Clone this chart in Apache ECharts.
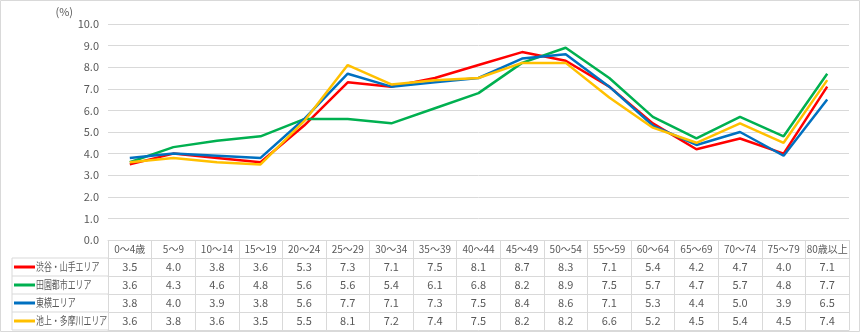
<!DOCTYPE html>
<html><head><meta charset="utf-8">
<script src="https://cdn.jsdelivr.net/npm/echarts@6/dist/echarts.min.js"></script>
<style>html,body{margin:0;padding:0;background:#fff}#c{width:860px;height:332px}</style>
</head><body><div id="c"></div>
<script>
var categories = ['0～4歳','5～9','10～14','15～19','20～24','25～29','30～34','35～39','40～44','45～49','50～54','55～59','60～64','65～69','70～74','75～79','80歳以上'];
var seriesNames = ['渋谷・山手エリア','田園都市エリア','東横エリア','池上・多摩川エリア'];
var shibuya = [3.5,4.0,3.8,3.6,5.3,7.3,7.1,7.5,8.1,8.7,8.3,7.1,5.4,4.2,4.7,4.0,7.1];
var denen   = [3.6,4.3,4.6,4.8,5.6,5.6,5.4,6.1,6.8,8.2,8.9,7.5,5.7,4.7,5.7,4.8,7.7];
var toyoko  = [3.8,4.0,3.9,3.8,5.6,7.7,7.1,7.3,7.5,8.4,8.6,7.1,5.3,4.4,5.0,3.9,6.5];
var ikegami = [3.6,3.8,3.6,3.5,5.5,8.1,7.2,7.4,7.5,8.2,8.2,6.6,5.2,4.5,5.4,4.5,7.4];
var yTicks = [0,1,2,3,4,5,6,7,8,9,10];
var colors = ['#FF0000','#00B050','#0070C0','#FFC000'];
var allValues = [shibuya, denen, toyoko, ikegami];

var FONT = '"Noto Sans CJK JP", "Noto Sans", sans-serif';
var TXT = '#595959';
var BORDER = '#d9d9d9';
var GL = 108, GR = 11, GT = 24, GB = 92, ROW = 18, W = 860, H = 332;
var gridBottomY = H - GB;

var xAxes = [{
  type: 'category', data: categories, gridIndex: 0, position: 'bottom', offset: 0,
  boundaryGap: true,
  axisLine: {show: true, lineStyle: {color: BORDER, width: 1}},
  axisTick: {show: true, interval: 0, length: ROW, lineStyle: {color: BORDER}},
  axisLabel: {interval: 0, margin: ROW/2, verticalAlign: 'middle', color: TXT, fontSize: 10, fontFamily: FONT},
  splitLine: {show: false}
}];
allValues.forEach(function(vals, k){
  xAxes.push({
    type: 'category', data: categories, gridIndex: 0, position: 'bottom', offset: ROW*(k+1),
    boundaryGap: true,
    axisLine: {show: true, lineStyle: {color: BORDER, width: 1}},
    axisTick: {show: true, interval: 0, length: ROW, lineStyle: {color: BORDER}},
    axisLabel: {interval: 0, margin: ROW/2, verticalAlign: 'middle', color: TXT, fontSize: 11, fontFamily: FONT,
      formatter: (function(v){ return function(val, idx){ return v[idx].toFixed(1); }; })(vals)},
    splitLine: {show: false}
  });
});
xAxes.push({
  type: 'category', data: categories, gridIndex: 0, position: 'bottom', offset: ROW*5,
  boundaryGap: true,
  axisLine: {show: true, lineStyle: {color: BORDER, width: 1}},
  axisTick: {show: false}, axisLabel: {show: false}, splitLine: {show: false}
});

var graphics = [];
for (var r = 1; r <= 5; r++) {
  graphics.push({type: 'line', shape: {x1: 12, y1: gridBottomY + ROW*r, x2: GL, y2: gridBottomY + ROW*r}, style: {stroke: BORDER, lineWidth: 1}});
}
graphics.push({type: 'line', shape: {x1: 12, y1: gridBottomY + ROW, x2: 12, y2: gridBottomY + ROW*5}, style: {stroke: BORDER, lineWidth: 1}});
graphics.push({type: 'rect', shape: {x: 0.5, y: 0.5, width: W-1, height: H-1}, style: {fill: 'none', stroke: BORDER, lineWidth: 1}});
seriesNames.forEach(function(name, i){
  var cy = gridBottomY + ROW*(i+1) + ROW/2;
  graphics.push({type: 'line', shape: {x1: 14, y1: cy, x2: 35, y2: cy}, style: {stroke: colors[i], lineWidth: 3}});
  graphics.push({type: 'text', x: 36, y: cy, scaleX: 0.72,
    style: {text: name, x: 0, y: 0, fill: TXT, fontSize: 11, fontFamily: FONT, verticalAlign: 'middle', align: 'left'}});
});

var chart = echarts.init(document.getElementById('c'), null, {renderer: 'canvas'});
chart.setOption({
  animation: false,
  color: colors,
  textStyle: {fontFamily: FONT},
  grid: {left: GL, right: GR, top: GT, bottom: GB, containLabel: false},
  xAxis: xAxes,
  yAxis: {
    type: 'value', min: yTicks[0], max: yTicks[yTicks.length-1], interval: 1,
    name: '(%)', nameLocation: 'end', nameGap: 12,
    nameTextStyle: {color: TXT, fontSize: 11, fontFamily: FONT, align: 'right', verticalAlign: 'middle', padding: [0, 35, 0, 0]},
    axisLine: {show: false}, axisTick: {show: false},
    axisLabel: {margin: 9, color: TXT, fontSize: 11, fontFamily: FONT, formatter: function(v){ return v.toFixed(1); }},
    splitLine: {lineStyle: {color: BORDER, width: 1}}
  },
  graphic: graphics,
  series: allValues.map(function(vals, i){
    return {name: seriesNames[i], type: 'line', xAxisIndex: 0, data: vals, symbol: 'none', smooth: false,
      lineStyle: {width: 2.5, color: colors[i]}, itemStyle: {color: colors[i]}};
  })
});
</script></body></html>
